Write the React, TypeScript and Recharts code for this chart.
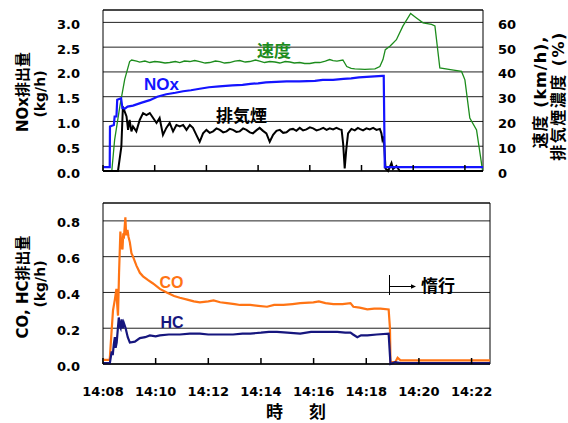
import React from "react";
import {
  LineChart,
  Line,
  XAxis,
  YAxis,
  CartesianGrid,
  ReferenceArea,
} from "recharts";

// minutes after 14:08
const xTicks = [0, 2, 4, 6, 8, 10, 12, 14];
const xTickLabels = ["14:08", "14:10", "14:12", "14:14", "14:16", "14:18", "14:20", "14:22"];
const noxTicks = [0, 0.5, 1, 1.5, 2, 2.5, 3];
const speedTicks = [0, 10, 20, 30, 40, 50, 60];
const coTicks = [0, 0.2, 0.4, 0.6, 0.8];

// [minute, kg/h]
const nox: [number, number][] = [
  [0, 0.08], [0.26, 0.08], [0.27, 0.9], [0.42, 0.93], [0.45, 1.1], [0.52, 1.1], [0.55, 1.44],
  [0.7, 1.47], [0.75, 1.27], [0.85, 1.26], [0.95, 1.3], [1.16, 1.32], [1.5, 1.38], [1.81, 1.43],
  [2.1, 1.5], [2.45, 1.55], [2.8, 1.58], [3.1, 1.61], [3.4, 1.63], [3.74, 1.66], [4.1, 1.69],
  [4.5, 1.71], [5.0, 1.73], [5.4, 1.74], [5.7, 1.76], [6.0, 1.77], [6.3, 1.79], [6.7, 1.8],
  [7.1, 1.81], [7.6, 1.81], [8.2, 1.82], [8.5, 1.84], [8.9, 1.84], [9.3, 1.86], [9.6, 1.87],
  [9.9, 1.89], [10.2, 1.9], [10.5, 1.91], [10.81, 1.92], [10.86, 1.92], [10.9, 0.08], [14.7, 0.08],
];

// [minute, km/h]
const speed: [number, number][] = [
  [0, 0], [0.34, 0], [0.45, 12.6], [0.65, 26], [0.84, 37], [1.03, 44.2], [1.11, 44.8], [1.3, 44.4],
  [1.42, 44.0], [1.62, 44.4], [1.81, 43.8], [2.0, 44.2], [2.19, 44.0], [2.4, 43.6], [2.58, 43.8],
  [2.8, 44.2], [2.97, 43.8], [3.15, 44.4], [3.36, 44.2], [3.55, 44.6], [3.74, 44.2], [3.95, 43.6],
  [4.13, 43.8], [4.35, 44.4], [4.52, 44.2], [4.7, 43.6], [4.9, 43.8], [5.1, 44.4], [5.29, 44.6],
  [5.5, 44.0], [5.68, 44.2], [5.9, 44.8], [6.06, 44.4], [6.25, 43.8], [6.45, 44.2], [6.65, 44.0],
  [6.84, 43.6], [7.05, 44.2], [7.23, 44.0], [7.4, 43.6], [7.61, 43.8], [7.8, 43.4], [8.0, 43.4],
  [8.2, 43.8], [8.39, 43.8], [8.6, 44.4], [8.77, 45.0], [8.9, 44.6], [9.05, 44.4], [9.28, 44.8],
  [9.43, 42.2], [9.6, 41.4], [9.74, 41.2], [10.13, 41.0], [10.52, 41.2], [10.71, 42.2], [10.83, 45],
  [10.92, 49], [11.1, 50.4], [11.35, 53], [11.6, 58.5], [11.9, 63.6], [12.1, 62], [12.38, 59.8],
  [12.71, 59.2], [12.84, 58.6], [13.03, 41.6], [13.5, 40.8], [13.87, 40.2], [14.0, 36.8],
  [14.19, 21.4], [14.45, 16.6], [14.68, 0.4],
];

// [minute, %]
const smoke: [number, number][] = [
  [0, 0], [0.58, 0], [0.71, 9.8], [0.77, 26], [0.84, 24], [0.91, 22], [0.97, 16.6], [1.03, 20.6],
  [1.1, 16], [1.16, 18], [1.29, 16], [1.42, 20.6], [1.55, 23.4], [1.68, 22.6], [1.81, 23.4],
  [1.94, 21.4], [2.07, 19.4], [2.19, 21.4], [2.32, 14.6], [2.45, 17.4], [2.58, 19.4], [2.71, 16],
  [2.84, 18.6], [2.97, 18], [3.1, 18.6], [3.23, 16.6], [3.36, 18.6], [3.48, 17.4], [3.61, 14.6],
  [3.74, 11.8], [3.87, 15.2], [4.0, 16.6], [4.13, 15.4], [4.26, 16], [4.39, 17.2], [4.52, 16.6],
  [4.65, 15.6], [4.78, 16], [4.9, 17], [5.03, 16.6], [5.16, 15.8], [5.29, 16], [5.42, 17.2],
  [5.55, 16.6], [5.68, 15.6], [5.8, 15.2], [5.93, 16.4], [6.06, 17.4], [6.19, 16.2], [6.32, 15.2],
  [6.45, 11.8], [6.58, 14.6], [6.71, 16.2], [6.84, 16.6], [6.97, 15.4], [7.1, 15.6], [7.23, 16.8],
  [7.35, 17], [7.48, 16.2], [7.61, 17.4], [7.74, 16.4], [7.87, 16.8], [8.0, 17.6], [8.13, 17.2],
  [8.26, 16.4], [8.39, 16.8], [8.52, 17.4], [8.65, 16.6], [8.77, 17.2], [8.9, 16.8], [9.03, 17.4],
  [9.16, 16.8], [9.23, 16.6], [9.29, 11], [9.35, 1], [9.41, 8.6], [9.48, 15.2], [9.61, 17],
  [9.74, 16.4], [9.86, 17.4], [9.93, 17], [10.06, 16.4], [10.19, 17.2], [10.32, 16.8],
  [10.45, 17.4], [10.58, 16.6], [10.71, 17], [10.77, 15.2], [10.81, 12.6], [10.86, 14],
  [10.93, 1], [11.03, 0], [11.16, 3.2], [11.22, 0.8], [11.35, 2], [11.48, 0], [14.7, 0],
];

// [minute, kg/h]
const co: [number, number][] = [
  [0, 0.023], [0.255, 0.023], [0.32, 0.17], [0.38, 0.3], [0.45, 0.36], [0.51, 0.42], [0.54, 0.33],
  [0.57, 0.27], [0.61, 0.51], [0.66, 0.74], [0.7, 0.66], [0.74, 0.64], [0.77, 0.73], [0.79, 0.7],
  [0.85, 0.82], [0.88, 0.72], [0.93, 0.75], [0.97, 0.71], [1.02, 0.68], [1.08, 0.62], [1.14, 0.6],
  [1.27, 0.55], [1.4, 0.51], [1.52, 0.49], [1.7, 0.47], [1.9, 0.45], [2.16, 0.42], [2.42, 0.4],
  [2.7, 0.38], [2.92, 0.37], [3.2, 0.36], [3.45, 0.35], [3.68, 0.345], [4.0, 0.35], [4.2, 0.355],
  [4.45, 0.345], [4.71, 0.34], [5.0, 0.335], [5.21, 0.33], [5.59, 0.33], [5.9, 0.325],
  [6.23, 0.32], [6.5, 0.33], [6.85, 0.33], [7.2, 0.335], [7.49, 0.34], [7.99, 0.345], [8.2, 0.35],
  [8.45, 0.34], [8.75, 0.335], [9.1, 0.335], [9.4, 0.34], [9.51, 0.32], [9.75, 0.315],
  [10.04, 0.305], [10.3, 0.31], [10.54, 0.31], [10.85, 0.305], [10.9, 0.2], [10.92, 0.01],
  [11.1, 0.01], [11.19, 0.035], [11.3, 0.02], [14.73, 0.02],
];

const hc: [number, number][] = [
  [0, 0.005], [0.26, 0.005], [0.33, 0.07], [0.37, 0.05], [0.41, 0.11], [0.45, 0.15], [0.48, 0.09],
  [0.52, 0.12], [0.56, 0.19], [0.6, 0.26], [0.64, 0.21], [0.67, 0.2], [0.71, 0.25], [0.75, 0.2],
  [0.79, 0.23], [0.86, 0.2], [0.94, 0.15], [1.02, 0.12], [1.21, 0.125], [1.4, 0.145], [1.6, 0.15],
  [1.78, 0.16], [2.0, 0.155], [2.16, 0.16], [2.5, 0.165], [2.92, 0.165], [3.3, 0.17], [3.68, 0.17],
  [4.0, 0.165], [4.25, 0.165], [4.6, 0.165], [4.94, 0.165], [5.3, 0.17], [5.59, 0.17], [6.0, 0.175],
  [6.3, 0.18], [6.61, 0.18], [7.0, 0.175], [7.49, 0.17], [7.9, 0.18], [8.3, 0.18], [8.9, 0.18],
  [9.2, 0.175], [9.4, 0.175], [9.5, 0.165], [9.66, 0.15], [9.8, 0.16], [10.04, 0.16],
  [10.4, 0.165], [10.85, 0.17], [10.92, 0], [11.1, 0.01], [11.3, 0.005], [14.73, 0.005],
];

const X_MAX = 14.7;
const NOX_MAX = 3.25;
const SPEED_MAX = 65;
const CO_MAX = 0.9;

const FONT = "'DejaVu Sans', 'Noto Sans CJK JP', sans-serif";
const LATIN = "'Liberation Sans', 'Noto Sans CJK JP', sans-serif";

const rows = (pts: [number, number][]) => pts.map(([t, v]) => ({ t, v }));

const LeftTick = (p: any) => (
  <text x={p.x} y={p.y + 2} textAnchor="end" dominantBaseline="central"
    fontFamily={FONT} fontWeight={700} fontSize={13} fill="#000">
    {Number(p.payload.value).toFixed(1)}
  </text>
);

const RightTick = (p: any) => (
  <text x={p.x} y={p.y + 2} textAnchor="start" dominantBaseline="central"
    fontFamily={FONT} fontWeight={700} fontSize={13} fill="#000">
    {p.payload.value}
  </text>
);

// tick mark pointing into the plot, optional label below
const timeTick = (withLabel: boolean) => (p: any) => (
  <g>
    <line x1={p.x} y1={p.y} x2={p.x} y2={p.y - 6} stroke="#000" strokeWidth={1.5} />
    {withLabel && (
      <text x={p.x} y={p.y + 32} textAnchor="middle"
        fontFamily={FONT} fontWeight={700} fontSize={13} fill="#000">
        {xTickLabels[xTicks.indexOf(p.payload.value)]}
      </text>
    )}
  </g>
);

const lineProps = { dot: false, isAnimationActive: false, type: "linear" as const };

export default function App() {
  return (
    <div style={{ position: "absolute", left: 0, top: 0, width: 568, height: 423, background: "#fff" }}>
      <div style={{ position: "absolute", left: 0, top: 0 }}>
        <LineChart width={568} height={190} margin={{ top: 10, right: 0, bottom: 0, left: 0 }}>
          <CartesianGrid yAxisId="left" vertical={false} stroke="#222" />
          <ReferenceArea yAxisId="left" x1={0} x2={X_MAX} y1={0} y2={NOX_MAX}
            fill="none" stroke="#000" strokeWidth={1} />
          <XAxis dataKey="t" type="number" domain={[0, X_MAX]} ticks={xTicks} height={19}
            tick={timeTick(false)} tickSize={0} tickMargin={0} tickLine={false}
            axisLine={{ stroke: "#000" }} allowDataOverflow />
          <YAxis yAxisId="left" domain={[0, NOX_MAX]} ticks={noxTicks} width={103}
            axisLine={false} tickLine={false} tickSize={0} tickMargin={23} tick={LeftTick} />
          <YAxis yAxisId="right" orientation="right" domain={[0, SPEED_MAX]} ticks={speedTicks}
            width={85} axisLine={false} tickLine={false} tickSize={0} tickMargin={15} tick={RightTick} />
          <Line yAxisId="right" data={rows(speed)} dataKey="v" stroke="#1c8c1c" strokeWidth={1.3} {...lineProps} />
          <Line yAxisId="right" data={rows(smoke)} dataKey="v" stroke="#000" strokeWidth={2} {...lineProps} />
          <Line yAxisId="left" data={rows(nox)} dataKey="v" stroke="#1414ff" strokeWidth={2.2} {...lineProps} />
        </LineChart>
      </div>
      <div style={{ position: "absolute", left: 0, top: 190 }}>
        <LineChart width={568} height={233} margin={{ top: 13, right: 78, bottom: 0, left: 0 }}>
          <CartesianGrid yAxisId="left" vertical={false} stroke="#222" />
          <ReferenceArea yAxisId="left" x1={0} x2={X_MAX} y1={0} y2={CO_MAX}
            fill="none" stroke="#000" strokeWidth={1} />
          <XAxis dataKey="t" type="number" domain={[0, X_MAX]} ticks={xTicks} height={59}
            tick={timeTick(true)} tickSize={0} tickMargin={0} tickLine={false}
            axisLine={{ stroke: "#000" }} allowDataOverflow />
          <YAxis yAxisId="left" domain={[0, CO_MAX]} ticks={coTicks} width={103}
            axisLine={false} tickLine={false} tickSize={0} tickMargin={23} tick={LeftTick} />
          <Line yAxisId="left" data={rows(co)} dataKey="v" stroke="#ff7414" strokeWidth={2.2} {...lineProps} />
          <Line yAxisId="left" data={rows(hc)} dataKey="v" stroke="#16167e" strokeWidth={2.2} {...lineProps} />
        </LineChart>
      </div>
      <svg width={568} height={423} style={{ position: "absolute", left: 0, top: 0, pointerEvents: "none" }}>
        <g fontFamily={FONT} fontWeight={700} fill="#000">
          <text transform="translate(23,92) rotate(-90)" textAnchor="middle" dominantBaseline="central" fontSize={15}>NOx排出量</text>
          <text transform="translate(40,94) rotate(-90)" textAnchor="middle" dominantBaseline="central" fontSize={14}>(kg/h)</text>
          <text transform="translate(540,92) rotate(-90)" textAnchor="middle" dominantBaseline="central" fontSize={16} letterSpacing={1}>速度 (km/h),</text>
          <text transform="translate(558,96) rotate(-90)" textAnchor="middle" dominantBaseline="central" fontSize={16} letterSpacing={1.5}>排気煙濃度 (%)</text>
          <text transform="translate(23,287) rotate(-90)" textAnchor="middle" dominantBaseline="central" fontSize={15}>CO, HC排出量</text>
          <text transform="translate(40,284) rotate(-90)" textAnchor="middle" dominantBaseline="central" fontSize={14}>(kg/h)</text>
          <text x={274.5} y={412} textAnchor="middle" dominantBaseline="central" fontSize={17}>時</text>
          <text x={317.5} y={412} textAnchor="middle" dominantBaseline="central" fontSize={17}>刻</text>
          <text x={274} y={51} textAnchor="middle" dominantBaseline="central" fontSize={17} fill="#1c8c1c">速度</text>
          <text x={241.5} y={116} textAnchor="middle" dominantBaseline="central" fontSize={17}>排気煙</text>
          <text x={438} y={286} textAnchor="middle" dominantBaseline="central" fontSize={17}>惰行</text>
        </g>
        <g fontFamily={LATIN} fontWeight={700}>
          <text x={161.5} y={84} textAnchor="middle" dominantBaseline="central" fontSize={17} fill="#1414ff">NOx</text>
          <text x={171.5} y={282} textAnchor="middle" dominantBaseline="central" fontSize={16} fill="#ff7414">CO</text>
          <text x={172} y={322} textAnchor="middle" dominantBaseline="central" fontSize={16} fill="#16167e">HC</text>
        </g>
        <line x1={389.5} y1={275} x2={389.5} y2={295} stroke="#000" strokeWidth={1} />
        <line x1={389.5} y1={286.5} x2={412} y2={286.5} stroke="#000" strokeWidth={1} />
        <polygon points="416,286.5 411,284.3 411,288.7" fill="#000" />
      </svg>
    </div>
  );
}
